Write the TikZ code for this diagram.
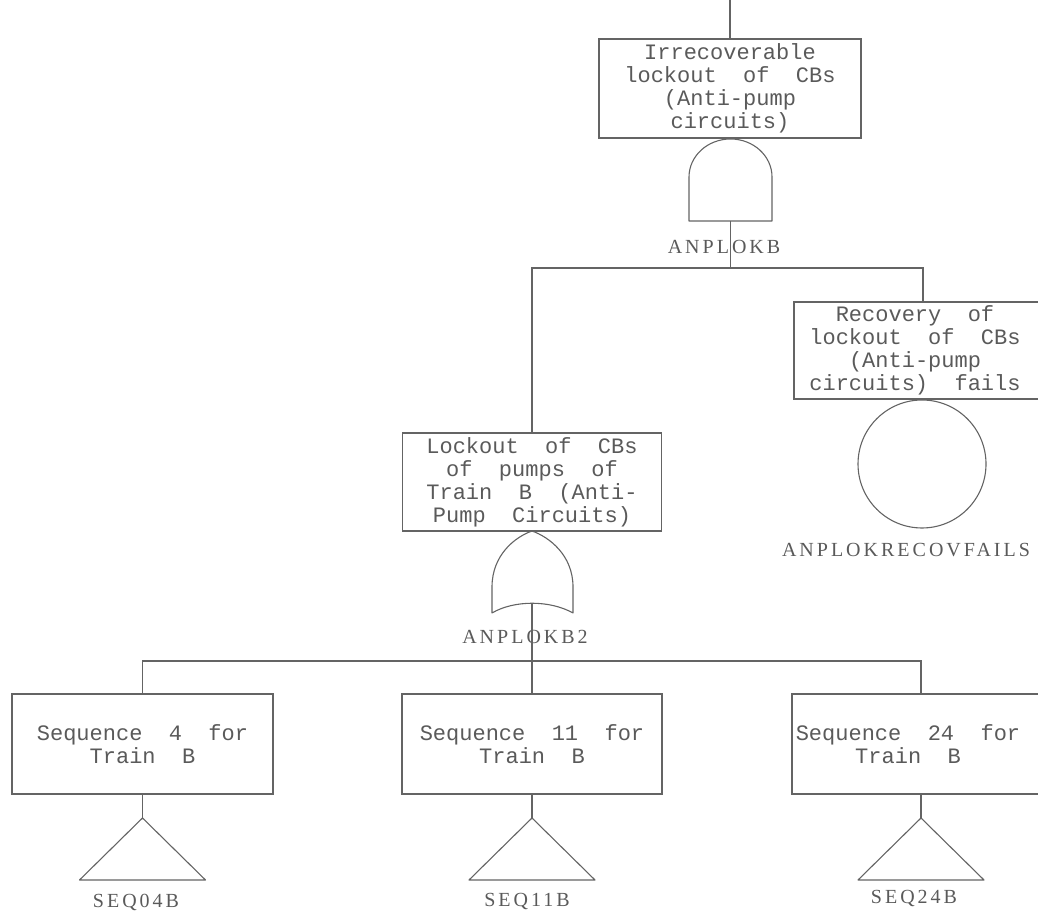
\documentclass[tikz,border=0pt]{standalone}
\usepackage{fontspec}
\setmainfont{Liberation Serif}
\newfontfamily\boxfont{Liberation Mono}
\newfontfamily\tagfont[LetterSpace=15]{Liberation Serif}
\definecolor{ink}{RGB}{100,100,100}
\definecolor{textink}{RGB}{90,90,90}
\begin{document}
\begin{tikzpicture}[x=1pt,y=1pt,
  eventbox/.style={draw=ink, line width=1.1pt, rectangle, inner sep=0pt,
    font=\boxfont\fontsize{22}{23}\selectfont, text=textink, align=center},
  boxtext/.style={inner sep=0pt, font=\boxfont\fontsize{22}{23}\selectfont,
    text=textink, align=center},
  gatelabel/.style={inner sep=0pt, font=\tagfont\fontsize{20}{20}\selectfont, text=textink},
  wire/.style={draw=ink, line width=1.1pt},
  gatepath/.style={draw=ink, line width=1.1pt, line join=round}]

\useasboundingbox (0,0) rectangle (1038,917);
\clip (0,0) rectangle (1038,917);

% top event
\coordinate (topend) at (730,917);
\node[eventbox, minimum width=262, minimum height=99] (top) at (730,828.5)
  {Irrecoverable\\lockout~~of~~CBs\\(Anti-pump\\circuits)};
\draw[wire] (topend) -- (top.north);

% AND gate
\coordinate (andout) at (730.5,696);
\draw[gatepath] (689,696) -- (689,740)
  arc[start angle=180, end angle=0, x radius=41.5, y radius=38] -- (772,696) -- cycle;
\node[gatelabel] (andlbl) at (724,670) {ANPLOKB};

% first level of the tree
\coordinate (busA) at (730.5,649);
\node[eventbox, minimum width=259, minimum height=98] (mid) at (532,435)
  {Lockout~~of~~CBs\\of~~pumps~~of\\Train~~B~~(Anti-\\Pump~~Circuits)};
\node[eventbox, minimum width=258, minimum height=97] (rbox) at (923,566.5) {};
\node[boxtext] (rtext) at (915,566.5)
  {Recovery~~of\\lockout~~of~~CBs\\(Anti-pump\\circuits)~~fails};
\draw[wire] (andout) -- (busA);
\draw[wire] (mid.north) |- (busA) -| (rbox.north);

% basic event
\node[draw=ink, line width=1.1pt, circle, minimum size=128, inner sep=0pt] (recov) at (922,453) {};
\node[gatelabel] (recovlbl) at (906,367) {ANPLOKRECOVFAILS};

% OR gate
\coordinate (orout) at (532,314);
\draw[gatepath] (532,386) .. controls (515,380) and (492,362) .. (492,330)
  -- (492,304) .. controls (514,317) and (550,317) .. (573,304)
  -- (573,330) .. controls (573,362) and (549,380) .. (532,386) -- cycle;
\node[gatelabel] (orlbl) at (525,280) {ANPLOKB2};

% second level of the tree
\coordinate (busB) at (532,256);
\node[eventbox, minimum width=261, minimum height=100] (s4) at (142.5,173)
  {Sequence~~4~~for\\Train~~B};
\node[eventbox, minimum width=260, minimum height=100] (s11) at (532,173)
  {Sequence~~11~~for\\Train~~B};
\node[eventbox, minimum width=258, minimum height=100] (s24) at (921,173) {};
\node[boxtext] (s24text) at (908,173) {Sequence~~24~~for\\Train~~B};
\draw[wire] (orout) -- (busB) -- (s11.north);
\draw[wire] (s4.north) |- (busB) -| (s24.north);

% transfer triangles
\coordinate (t4) at (142.5,99);
\coordinate (t11) at (532,99);
\coordinate (t24) at (921,99);
\draw[gatepath] (t4) -- ++(63,-62) -- ++(-126,0) -- cycle;
\draw[gatepath] (t11) -- ++(63,-62) -- ++(-126,0) -- cycle;
\draw[gatepath] (t24) -- ++(63,-62) -- ++(-126,0) -- cycle;
\draw[wire] (s4.south) -- (t4);
\draw[wire] (s11.south) -- (t11);
\draw[wire] (s24.south) -- (t24);
\node[gatelabel] (seq4) at (136,15) {SEQ04B};
\node[gatelabel] (seq11) at (527,15) {SEQ11B};
\node[gatelabel] (seq24) at (914,18) {SEQ24B};
\end{tikzpicture}
\end{document}
